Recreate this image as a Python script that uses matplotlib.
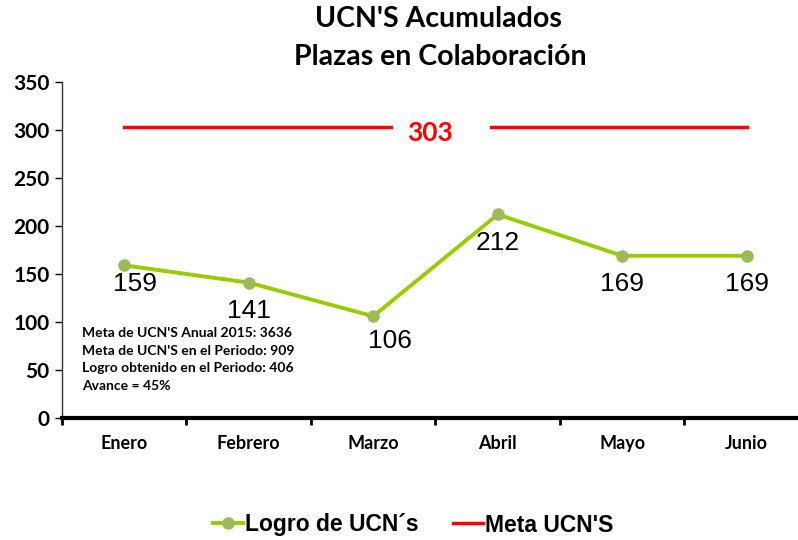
import matplotlib.pyplot as plt
from matplotlib.patches import Rectangle

# data
meses = ["Enero", "Febrero", "Marzo", "Abril", "Mayo", "Junio"]
logro = [159, 141, 106, 212, 169, 169]
meta = [303, 303, 303, 303, 303, 303]
notas = ["Meta de UCN'S Anual 2015: 3636",
         "Meta de UCN'S en el Periodo: 909",
         "Logro obtenido en el Periodo: 406",
         "Avance = 45%"]

# label offsets in pixels (excel placement)
offs = [(11, -19), (0, -28), (17, -25), (0, -29), (0, -28), (0, -28)]

cal = "Lato"

fig = plt.figure(figsize=(7.98, 5.4), dpi=100)
ax = fig.add_axes([62 / 798, 122 / 540, 747 / 798, 336 / 540])

x = list(range(len(meses)))

# meta line, with a white gap behind its label
ax.plot(x, meta, color="#FF0000", lw=2.5, label="Meta UCN'S", zorder=2)
ax.add_patch(Rectangle((2.16, meta[0] - 12), 0.78, 24, facecolor="white",
                       edgecolor="none", zorder=3))
ax.text(2.456, meta[0] - 6, str(meta[0]), color="#FF0000", fontsize=19,
        fontweight="bold", family=cal, ha="center", va="center", zorder=3)

# logro line
ax.plot(x, logro, color="#99CC00", lw=2.8, marker="o", markersize=8,
        markerfacecolor="#9BBB59", markeredgecolor="#9BBB59",
        label="Logro de UCN´s", zorder=4)
for xi, v, o in zip(x, logro, offs):
    ax.annotate(str(v), (xi, v), xytext=o, textcoords="offset pixels",
                ha="center", va="center", fontsize=19, family="Liberation Sans")

ax.set_xlim(-0.5, 5.5)
ax.set_ylim(0, 350)
ax.set_yticks(range(0, 351, 50))
ax.set_xticks(x)
ax.set_xticklabels(meses, fontsize=13, fontweight="bold", family=cal)
for lbl in ax.get_yticklabels():
    lbl.set_fontsize(15)
    lbl.set_fontweight("bold")
    lbl.set_family(cal)

ax.set_xticks([i - 0.5 for i in x], minor=True)
ax.tick_params(axis="x", which="major", length=0, pad=12)
ax.tick_params(axis="x", which="minor", length=5, width=2, direction="out")
ax.tick_params(axis="y", length=5, width=1, pad=4)

for s in ["top", "right"]:
    ax.spines[s].set_visible(False)
ax.spines["bottom"].set_linewidth(3)
ax.spines["left"].set_linewidth(1)
ax.spines["left"].set_color("#333333")

ax.text(0.027, 0.27, "\n".join(notas), transform=ax.transAxes, fontsize=10,
        fontweight="bold", family=cal, va="top", ha="left", linespacing=1.55)

fig.text(438 / 798, 1 - 19 / 540, "UCN'S Acumulados", ha="center", va="center",
         fontsize=20.5, fontweight="bold", family=cal)
fig.text(440 / 798, 1 - 57 / 540, "Plazas en Colaboración", ha="center", va="center",
         fontsize=20.5, fontweight="bold", family=cal)

h, l = ax.get_legend_handles_labels()
fig.legend(h[::-1], l[::-1], loc="center", bbox_to_anchor=(413 / 798, 1 - 525 / 540),
           ncol=2, frameon=False,
           prop={"family": "Liberation Sans", "weight": "bold", "size": 16.5},
           handlelength=1.3, handletextpad=0.1, columnspacing=1.5)

fig.savefig("out.png", dpi=100)
